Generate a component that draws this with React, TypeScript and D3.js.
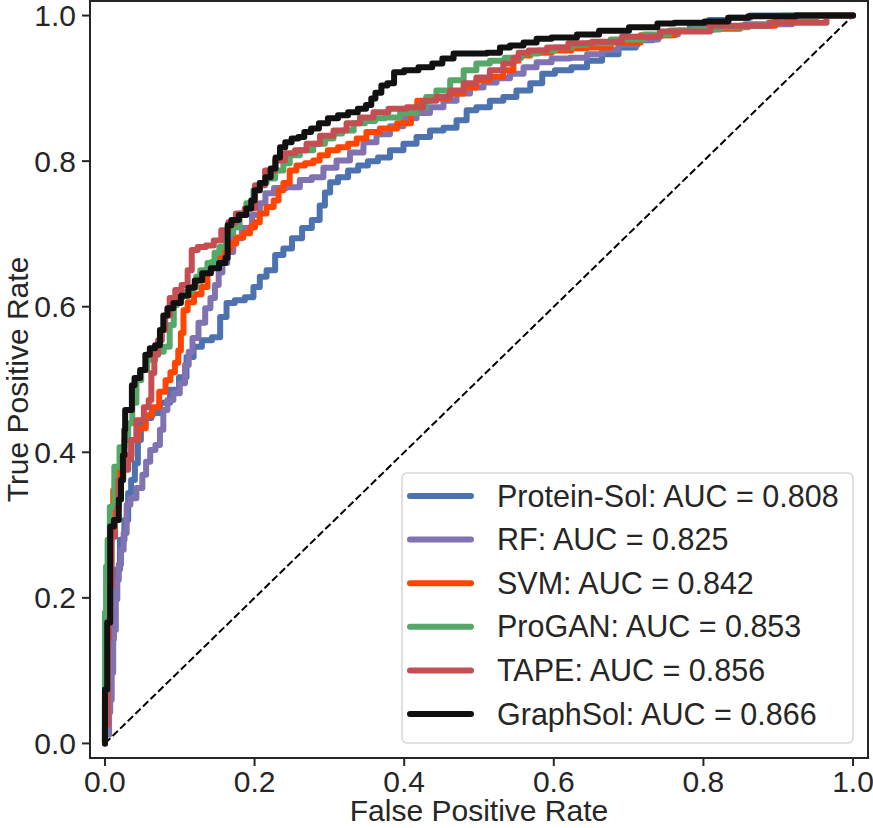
import React from 'react';
import * as d3 from 'd3';

// ROC curve vertices: [false positive rate, true positive rate]
const proteinSolRoc: [number, number][] = [
  [0, 0], [0, 0.06], [0.004, 0.074], [0.007, 0.129], [0.009, 0.17], [0.013, 0.198], [0.017, 0.239],
  [0.023, 0.28], [0.029, 0.307], [0.033, 0.344], [0.037, 0.362], [0.043, 0.385], [0.045, 0.417],
  [0.051, 0.438], [0.057, 0.447], [0.067, 0.454], [0.08, 0.468], [0.094, 0.486], [0.104, 0.503],
  [0.114, 0.531], [0.123, 0.545], [0.136, 0.554], [0.15, 0.558], [0.158, 0.586], [0.167, 0.605],
  [0.18, 0.609], [0.194, 0.613], [0.203, 0.627], [0.211, 0.641], [0.221, 0.65], [0.234, 0.671],
  [0.243, 0.68], [0.257, 0.694], [0.27, 0.708], [0.283, 0.719], [0.291, 0.739], [0.297, 0.757],
  [0.305, 0.771], [0.318, 0.778], [0.332, 0.787], [0.345, 0.794], [0.358, 0.8], [0.372, 0.805],
  [0.39, 0.815], [0.408, 0.824], [0.425, 0.833], [0.444, 0.842], [0.461, 0.846], [0.479, 0.856],
  [0.488, 0.87], [0.505, 0.874], [0.524, 0.883], [0.541, 0.888], [0.559, 0.897], [0.578, 0.907],
  [0.591, 0.92], [0.612, 0.925], [0.635, 0.929], [0.654, 0.938], [0.675, 0.947], [0.698, 0.956],
  [0.721, 0.966], [0.743, 0.973], [0.769, 0.979], [0.795, 0.986], [0.82, 0.994], [0.849, 0.997],
  [0.876, 1.0], [1.0, 1.0],
];

const rfRoc: [number, number][] = [
  [0, 0], [0, 0.012], [0.004, 0.012], [0.007, 0.043], [0.007, 0.06], [0.011, 0.097], [0.011, 0.143],
  [0.013, 0.156], [0.016, 0.198], [0.017, 0.225], [0.02, 0.246], [0.023, 0.266], [0.027, 0.289],
  [0.031, 0.328], [0.037, 0.337], [0.047, 0.351], [0.053, 0.369], [0.057, 0.387], [0.064, 0.403],
  [0.071, 0.41], [0.076, 0.431], [0.08, 0.458], [0.087, 0.472], [0.096, 0.481], [0.104, 0.495],
  [0.11, 0.52], [0.114, 0.538], [0.12, 0.557], [0.13, 0.578], [0.138, 0.598], [0.144, 0.612],
  [0.15, 0.63], [0.154, 0.647], [0.16, 0.66], [0.167, 0.675], [0.176, 0.694], [0.19, 0.708],
  [0.203, 0.726], [0.211, 0.742], [0.218, 0.756], [0.234, 0.763], [0.251, 0.764], [0.27, 0.774],
  [0.283, 0.778], [0.301, 0.791], [0.318, 0.801], [0.337, 0.812], [0.354, 0.826], [0.372, 0.837],
  [0.39, 0.848], [0.408, 0.859], [0.425, 0.866], [0.444, 0.874], [0.461, 0.883], [0.479, 0.893],
  [0.497, 0.901], [0.515, 0.908], [0.532, 0.914], [0.551, 0.92], [0.568, 0.929], [0.586, 0.936],
  [0.608, 0.941], [0.635, 0.942], [0.654, 0.947], [0.675, 0.953], [0.698, 0.96], [0.726, 0.967],
  [0.753, 0.974], [0.779, 0.979], [0.797, 0.981], [0.833, 0.985], [0.878, 0.988], [0.905, 0.988],
  [0.932, 0.995], [0.969, 1.0], [1.0, 1.0],
];

const svmRoc: [number, number][] = [
  [0, 0], [0, 0.074], [0.003, 0.129], [0.004, 0.198], [0.007, 0.252], [0.009, 0.307], [0.013, 0.348],
  [0.02, 0.376], [0.031, 0.396], [0.04, 0.417], [0.049, 0.433], [0.06, 0.451], [0.067, 0.462],
  [0.078, 0.483], [0.084, 0.499], [0.091, 0.51], [0.096, 0.523], [0.1, 0.54], [0.103, 0.564],
  [0.107, 0.595], [0.114, 0.606], [0.124, 0.617], [0.134, 0.627], [0.14, 0.647], [0.144, 0.661],
  [0.154, 0.668], [0.164, 0.678], [0.171, 0.687], [0.18, 0.695], [0.19, 0.701], [0.198, 0.709],
  [0.203, 0.716], [0.211, 0.728], [0.221, 0.737], [0.23, 0.746], [0.234, 0.76], [0.243, 0.77],
  [0.251, 0.787], [0.261, 0.794], [0.274, 0.797], [0.283, 0.801], [0.291, 0.808], [0.305, 0.815],
  [0.318, 0.819], [0.332, 0.824], [0.341, 0.831], [0.358, 0.84], [0.377, 0.845], [0.404, 0.852],
  [0.414, 0.87], [0.421, 0.883], [0.448, 0.886], [0.471, 0.893], [0.488, 0.901], [0.505, 0.911],
  [0.524, 0.916], [0.541, 0.925], [0.551, 0.938], [0.555, 0.945], [0.582, 0.949], [0.612, 0.952],
  [0.635, 0.955], [0.654, 0.956], [0.698, 0.963], [0.734, 0.973], [0.789, 0.979], [0.822, 0.982],
  [0.876, 0.986], [0.916, 0.996], [0.929, 1.0], [1.0, 1.0],
];

const proGanRoc: [number, number][] = [
  [0, 0], [0, 0.18], [0.003, 0.243], [0.004, 0.28], [0.009, 0.325], [0.016, 0.38], [0.023, 0.407],
  [0.029, 0.417], [0.033, 0.44], [0.04, 0.468], [0.044, 0.499], [0.053, 0.513], [0.06, 0.527],
  [0.074, 0.538], [0.083, 0.545], [0.09, 0.575], [0.094, 0.602], [0.098, 0.613], [0.11, 0.62],
  [0.12, 0.627], [0.124, 0.641], [0.131, 0.65], [0.143, 0.66], [0.15, 0.674], [0.156, 0.682],
  [0.167, 0.701], [0.176, 0.709], [0.184, 0.728], [0.194, 0.742], [0.203, 0.76], [0.211, 0.77],
  [0.221, 0.776], [0.234, 0.787], [0.243, 0.797], [0.251, 0.808], [0.27, 0.815], [0.287, 0.824],
  [0.301, 0.831], [0.31, 0.838], [0.324, 0.842], [0.341, 0.852], [0.354, 0.855], [0.368, 0.859],
  [0.381, 0.86], [0.408, 0.866], [0.425, 0.874], [0.434, 0.888], [0.452, 0.897], [0.471, 0.911],
  [0.488, 0.925], [0.505, 0.934], [0.524, 0.938], [0.545, 0.942], [0.568, 0.948], [0.591, 0.952],
  [0.612, 0.956], [0.635, 0.96], [0.654, 0.962], [0.698, 0.967], [0.743, 0.974], [0.766, 0.979],
  [0.802, 0.981], [0.842, 0.984], [0.878, 0.986], [0.896, 0.99], [0.916, 1.0], [1.0, 1.0],
];

const tapeRoc: [number, number][] = [
  [0, 0], [0, 0.026], [0.004, 0.026], [0.004, 0.143], [0.007, 0.17], [0.007, 0.215], [0.011, 0.284],
  [0.016, 0.307], [0.017, 0.325], [0.02, 0.362], [0.029, 0.376], [0.033, 0.39], [0.037, 0.417],
  [0.047, 0.444], [0.057, 0.462], [0.06, 0.472], [0.064, 0.509], [0.068, 0.534], [0.074, 0.554],
  [0.078, 0.568], [0.083, 0.588], [0.09, 0.612], [0.098, 0.623], [0.107, 0.63], [0.114, 0.65],
  [0.118, 0.678], [0.13, 0.682], [0.14, 0.684], [0.151, 0.691], [0.16, 0.705], [0.17, 0.716],
  [0.18, 0.728], [0.194, 0.735], [0.207, 0.767], [0.221, 0.787], [0.234, 0.801], [0.247, 0.811],
  [0.261, 0.815], [0.278, 0.824], [0.297, 0.835], [0.314, 0.842], [0.332, 0.852], [0.35, 0.86],
  [0.368, 0.867], [0.39, 0.872], [0.417, 0.874], [0.434, 0.883], [0.452, 0.888], [0.471, 0.897],
  [0.488, 0.907], [0.505, 0.915], [0.524, 0.925], [0.541, 0.934], [0.551, 0.942], [0.555, 0.949],
  [0.578, 0.952], [0.604, 0.956], [0.635, 0.962], [0.667, 0.964], [0.715, 0.971], [0.769, 0.978],
  [0.849, 0.986], [0.929, 0.99], [1.0, 1.0],
];

const graphSolRoc: [number, number][] = [
  [0, 0], [0, 0.074], [0.003, 0.074], [0.003, 0.166], [0.007, 0.166], [0.007, 0.298], [0.017, 0.307],
  [0.02, 0.335], [0.023, 0.362], [0.025, 0.396], [0.027, 0.431], [0.027, 0.458], [0.036, 0.458],
  [0.036, 0.492], [0.043, 0.502], [0.051, 0.513], [0.057, 0.534], [0.063, 0.543], [0.071, 0.547],
  [0.076, 0.568], [0.08, 0.588], [0.087, 0.598], [0.096, 0.605], [0.107, 0.615], [0.116, 0.626],
  [0.124, 0.636], [0.136, 0.646], [0.147, 0.653], [0.158, 0.66], [0.164, 0.667], [0.164, 0.712],
  [0.174, 0.719], [0.184, 0.726], [0.194, 0.735], [0.197, 0.746], [0.203, 0.76], [0.211, 0.77],
  [0.218, 0.778], [0.225, 0.79], [0.231, 0.805], [0.237, 0.819], [0.245, 0.826], [0.254, 0.831],
  [0.263, 0.833], [0.27, 0.84], [0.281, 0.845], [0.291, 0.852], [0.305, 0.859], [0.318, 0.863],
  [0.332, 0.867], [0.344, 0.872], [0.354, 0.877], [0.358, 0.886], [0.365, 0.894], [0.374, 0.904],
  [0.381, 0.907], [0.392, 0.922], [0.408, 0.925], [0.43, 0.929], [0.445, 0.934], [0.457, 0.941],
  [0.475, 0.948], [0.497, 0.948], [0.524, 0.949], [0.532, 0.956], [0.551, 0.959], [0.568, 0.963],
  [0.586, 0.968], [0.608, 0.97], [0.654, 0.974], [0.667, 0.979], [0.734, 0.984], [0.743, 0.989],
  [0.779, 0.99], [0.824, 0.992], [0.842, 0.997], [0.878, 0.999], [0.969, 1.0], [1.0, 1.0],
];

const seriesNames = ['Protein-Sol', 'RF', 'SVM', 'ProGAN', 'TAPE', 'GraphSol'];
const aucValues = [0.808, 0.825, 0.842, 0.853, 0.856, 0.866];
const seriesColors = ['#4c72b0', '#8172b2', '#ff4500', '#55a868', '#c44e52', '#111111'];
const seriesData = [proteinSolRoc, rfRoc, svmRoc, proGanRoc, tapeRoc, graphSolRoc];
const tickValues = [0, 0.2, 0.4, 0.6, 0.8, 1.0];
const diagonal: [number, number][] = [[0, 0], [1, 1]];

const W = 873;
const H = 828;
const FONT = '"Liberation Sans", Arial, sans-serif';
const TEXT = '#262626';

export default function App() {
  const left = 90, right = 868, top = 1, bottom = 758;
  const x = d3.scaleLinear().domain([-0.02, 1.02]).range([left, right]);
  const y = d3.scaleLinear().domain([-0.02, 1.02]).range([bottom, top]);

  const line = d3
    .line<[number, number]>()
    .x((d) => x(d[0]))
    .y((d) => y(d[1]))
    .curve(d3.curveStep);
  const straight = d3
    .line<[number, number]>()
    .x((d) => x(d[0]))
    .y((d) => y(d[1]));

  const legendX = 402, legendY = 473, legendW = 451, legendH = 270;
  const rowY0 = 496, rowStep = 43.6;

  return (
    <svg
      width={W}
      height={H}
      viewBox={`0 0 ${W} ${H}`}
      style={{ position: 'absolute', left: 0, top: 0, background: '#fff' }}
      fontFamily={FONT}
    >
      <rect x={0} y={0} width={W} height={H} fill="#fff" />
      <path
        d={straight(diagonal) || ''}
        fill="none"
        stroke="#000"
        strokeWidth={2}
        strokeDasharray="7.4,3.2"
      />
      {seriesData.map((d, i) => (
        <path
          key={seriesNames[i]}
          d={line(d) || ''}
          fill="none"
          stroke={seriesColors[i]}
          strokeWidth={6}
          strokeLinejoin="round"
          strokeLinecap="round"
        />
      ))}
      <rect
        x={left}
        y={top}
        width={right - left}
        height={bottom - top}
        fill="none"
        stroke={TEXT}
        strokeWidth={2}
      />
      {tickValues.map((t) => (
        <g key={'y' + t}>
          <line x1={left - 8} x2={left} y1={y(t)} y2={y(t)} stroke={TEXT} strokeWidth={2} />
          <text x={left - 14} y={y(t)} dy="0.35em" textAnchor="end" fontSize={30} fill={TEXT}>
            {d3.format('.1f')(t)}
          </text>
        </g>
      ))}
      {tickValues.map((t) => (
        <g key={'x' + t}>
          <line x1={x(t)} x2={x(t)} y1={bottom} y2={bottom + 8} stroke={TEXT} strokeWidth={2} />
          <text x={x(t)} y={bottom + 34} textAnchor="middle" fontSize={30} fill={TEXT}>
            {d3.format('.1f')(t)}
          </text>
        </g>
      ))}
      <text x={(left + right) / 2} y={821} textAnchor="middle" fontSize={30} fill={TEXT}>
        False Positive Rate
      </text>
      <text
        transform={`translate(28,${(top + bottom) / 2}) rotate(-90)`}
        textAnchor="middle"
        fontSize={30}
        fill={TEXT}
      >
        True Positive Rate
      </text>
      <rect
        x={legendX}
        y={legendY}
        width={legendW}
        height={legendH}
        rx={5}
        fill="#fff"
        fillOpacity={0.8}
        stroke="#d6d6d6"
        strokeWidth={1.5}
      />
      {seriesNames.map((name, i) => {
        const cy = rowY0 + i * rowStep;
        return (
          <g key={'leg' + name}>
            <line
              x1={410}
              x2={471}
              y1={cy}
              y2={cy}
              stroke={seriesColors[i]}
              strokeWidth={6}
              strokeLinecap="round"
            />
            <text x={497} y={cy} dy="0.35em" fontSize={30.5} fill={TEXT}>
              {`${name}: AUC = ${d3.format('.3f')(aucValues[i])}`}
            </text>
          </g>
        );
      })}
    </svg>
  );
}
